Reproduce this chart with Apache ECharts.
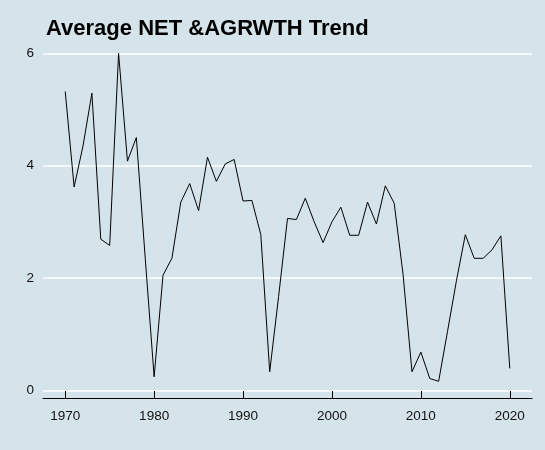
<!DOCTYPE html>
<html>
<head>
<meta charset="utf-8">
<script src="https://cdn.jsdelivr.net/npm/echarts@6/dist/echarts.min.js"></script>
<style>
  html, body { margin: 0; padding: 0; background: #d5e4eb; }
  #chart { width: 545px; height: 450px; }
</style>
</head>
<body>
<div id="chart"></div>
<script>
const years = [1970, 1971, 1972, 1973, 1974, 1975, 1976, 1977, 1978, 1979,
  1980, 1981, 1982, 1983, 1984, 1985, 1986, 1987, 1988, 1989,
  1990, 1991, 1992, 1993, 1994, 1995, 1996, 1997, 1998, 1999,
  2000, 2001, 2002, 2003, 2004, 2005, 2006, 2007, 2008, 2009,
  2010, 2011, 2012, 2013, 2014, 2015, 2016, 2017, 2018, 2019, 2020];
const avgValues = [5.32, 3.62, 4.35, 5.29, 2.69, 2.58, 6.00, 4.08, 4.50, 2.35,
  0.24, 2.05, 2.35, 3.35, 3.68, 3.20, 4.15, 3.72, 4.03, 4.11,
  3.37, 3.38, 2.77, 0.33, 1.67, 3.06, 3.04, 3.42, 3.00, 2.63,
  3.00, 3.26, 2.76, 2.76, 3.35, 2.96, 3.64, 3.33, 2.06, 0.33,
  0.68, 0.21, 0.16, 1.05, 1.95, 2.77, 2.35, 2.35, 2.50, 2.75, 0.39];
const xTicks = [1970, 1980, 1990, 2000, 2010, 2020];
const yTicks = [0, 2, 4, 6];

const chart = echarts.init(document.getElementById('chart'));

chart.setOption({
  backgroundColor: '#d5e4eb',
  animation: false,
  title: {
    text: 'Average NET &AGRWTH Trend',
    left: 41,
    top: 13,
    textStyle: {
      fontFamily: 'Liberation Sans',
      fontWeight: 'bold',
      fontSize: 22,
      color: '#000'
    }
  },
  grid: { left: 43, right: 13, top: 37, bottom: 52 },
  xAxis: {
    type: 'value',
    min: 1967.5,
    max: 2022.5,
    axisLine: { show: true, onZero: false, lineStyle: { color: '#000', width: 1 } },
    axisTick: { show: true, inside: true, length: 7, lineStyle: { color: '#000' }, customValues: xTicks },
    axisLabel: {
      customValues: xTicks,
      margin: 11,
      fontFamily: 'Liberation Sans',
      fontSize: 13.5,
      color: '#111',
      formatter: v => String(v)
    },
    splitLine: { show: false }
  },
  yAxis: {
    type: 'value',
    min: -0.137,
    max: 6.29,
    axisLine: { show: false },
    axisTick: { show: false, customValues: yTicks },
    axisLabel: {
      customValues: yTicks,
      margin: 9,
      fontFamily: 'Liberation Sans',
      fontSize: 13.5,
      color: '#111'
    },
    splitLine: { show: true, lineStyle: { color: '#fff', width: 1.6 } }
  },
  series: [{
    type: 'line',
    data: years.map((y, i) => [y, avgValues[i]]),
    showSymbol: false,
    lineStyle: { color: '#000', width: 1 },
    z: 3
  }]
});
</script>
</body>
</html>
